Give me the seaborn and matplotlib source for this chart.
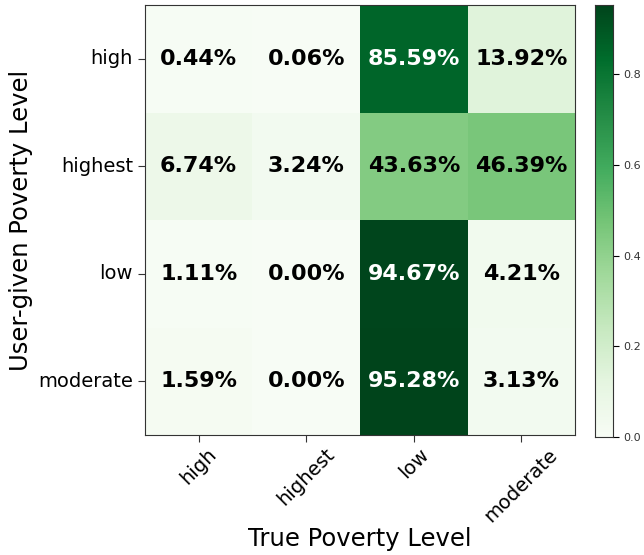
import numpy as np
import matplotlib
matplotlib.use('Agg')
import matplotlib.pyplot as plt
import seaborn as sns
import pandas as pd

levels = ['high', 'highest', 'low', 'moderate']
row_high = [0.0044, 0.0006, 0.8559, 0.1392]
row_highest = [0.0674, 0.0324, 0.4363, 0.4639]
row_low = [0.0111, 0.0000, 0.9467, 0.0421]
row_moderate = [0.0159, 0.0000, 0.9528, 0.0313]

cm = pd.DataFrame([row_high, row_highest, row_low, row_moderate], index=levels, columns=levels)
labels = cm.map(lambda v: f'{v*100:.2f}%')

fig = plt.figure(figsize=(6.44, 5.55), dpi=100)
ax = fig.add_axes([0.225, 0.216, 0.668, 0.775])
cax = fig.add_axes([0.924, 0.213, 0.028, 0.778])

sns.heatmap(cm, ax=ax, cbar_ax=cax, cmap='Greens', vmin=0, vmax=cm.values.max(),
            annot=labels, fmt='', square=False,
            annot_kws={'fontsize': 16, 'fontweight': 'bold'})

# white text on the dark cells, like the original
thresh = cm.values.max() / 2
for t, v in zip(ax.texts, cm.values.flatten()):
    t.set_color('white' if v > thresh else 'black')

for s in ax.spines.values():
    s.set_visible(True)
    s.set_color('#333333')
ax.tick_params(axis='both', length=5, color='#333333', labelsize=14)
ax.tick_params(axis='x', pad=2)
ax.set_xticklabels(levels, rotation=45, fontsize=14)
ax.set_yticklabels(levels, rotation=0, fontsize=14)
ax.set_xlabel('True Poverty Level', fontsize=17.5, labelpad=1)
ax.set_ylabel('User-given Poverty Level', fontsize=17.5)

cax.tick_params(labelsize=8, length=4, labelcolor='#333333')
cax.set_yticks([0.0, 0.2, 0.4, 0.6, 0.8])
for s in cax.spines.values():
    s.set_visible(True)
    s.set_color('#333333')

fig.savefig('out.png', dpi=100)
